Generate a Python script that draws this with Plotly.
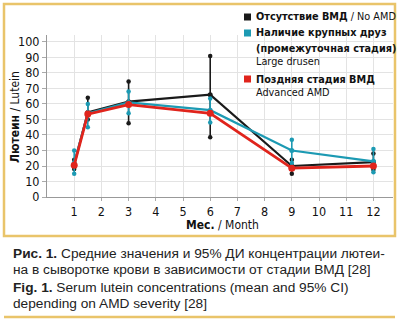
import plotly.graph_objects as go

months = [1, 1.5, 3, 6, 9, 12]
x_ticks = [1, 2, 3, 4, 5, 6, 7, 8, 9, 10, 11, 12]
y_ticks = [0, 10, 20, 30, 40, 50, 60, 70, 80, 90, 100]

no_amd_mean = [21, 54.5, 61.5, 66, 20, 22.5]
no_amd_lo = [18, 50, 47.5, 38.5, 15, 17.5]
no_amd_hi = [24, 64, 74.5, 91, 24, 28]

drusen_mean = [22, 54, 61, 56, 30, 23]
drusen_lo = [15, 45, 54, 48, 22, 16]
drusen_hi = [30, 60, 68, 63.5, 37, 31]

adv_mean = [20.5, 53.5, 59.6, 54, 18.6, 20]

BLACK = "#1a1a1a"
TEAL = "#1c9ab3"
RED = "#e0241c"
FONT_N = "DejaVu Sans Condensed, Roboto Condensed, Liberation Sans Narrow"
FONT = "Liberation Sans, Arial"

fig = go.Figure()

def add_series(mean, lo, hi, color, lw, ms):
    if lo is not None:
        fig.add_trace(go.Scatter(
            x=months, y=mean, mode="markers",
            marker=dict(size=0.1, color=color),
            error_y=dict(type="data", symmetric=False,
                         array=[h - m for h, m in zip(hi, mean)],
                         arrayminus=[m - l for m, l in zip(mean, lo)],
                         color=color, thickness=1.6, width=0),
            showlegend=False, hoverinfo="skip"))
        fig.add_trace(go.Scatter(
            x=months + months, y=lo + hi, mode="markers",
            marker=dict(size=4.5, color=color), showlegend=False,
            hoverinfo="skip"))
    fig.add_trace(go.Scatter(
        x=months, y=mean, mode="lines+markers",
        line=dict(color=color, width=lw),
        marker=dict(size=ms, color=color), showlegend=False))

add_series(no_amd_mean, no_amd_lo, no_amd_hi, BLACK, 2.2, 5)
add_series(drusen_mean, drusen_lo, drusen_hi, TEAL, 2.2, 5)
add_series(adv_mean, None, None, RED, 2.8, 7)

fig.update_layout(
    width=401, height=322,
    margin=dict(l=47, r=8, t=35, b=125),
    paper_bgcolor="white", plot_bgcolor="white",
    font=dict(family=FONT_N, size=12, color="#111"),
    xaxis=dict(range=[0, 12.72], tickvals=x_ticks, showgrid=True,
               gridcolor="#e3e3e3", gridwidth=1, zeroline=False,
               showline=True, linecolor="#999", linewidth=1,
               ticks="outside", ticklen=3, tickcolor="#aaa",
               tickfont=dict(family=FONT_N, size=12.5)),
    yaxis=dict(range=[0, 104.5], tickvals=y_ticks, showgrid=True,
               gridcolor="#e3e3e3", gridwidth=1, zeroline=False,
               showline=True, linecolor="#999", linewidth=1,
               ticks="outside", ticklen=4, tickcolor="#aaa",
               tickfont=dict(family=FONT_N, size=12.5)),
)

def px_x(px):
    return (px - 47) / 346

def px_y(py):
    return (197 - py) / 162

# orange frame around chart and bottom rule
fig.add_shape(type="rect", xref="paper", yref="paper",
              x0=px_x(4), x1=px_x(395), y0=px_y(236), y1=px_y(4),
              line=dict(color="#e9c46a", width=2.5),
              fillcolor="rgba(0,0,0,0)", layer="below")
fig.add_shape(type="line", xref="paper", yref="paper",
              x0=px_x(4), x1=px_x(395), y0=px_y(317), y1=px_y(317),
              line=dict(color="#e9c46a", width=2.5))

# legend
legend_rows = [
    (17, "<b>Отсутствие ВМД</b> / No AMD", BLACK),
    (33, "<b>Наличие крупных друз</b>", TEAL),
    (48, "<b>(промежуточная стадия)</b>", None),
    (62, "Large drusen", None),
    (79, "<b>Поздняя стадия ВМД</b>", RED),
    (92, "Advanced AMD", None),
]
for py, txt, col in legend_rows:
    fig.add_annotation(xref="paper", yref="paper", x=px_x(254), y=px_y(py),
                       text=txt, showarrow=False, xanchor="left", yanchor="middle",
                       font=dict(family=FONT_N, size=10.8, color="#111"))
    if col:
        fig.add_shape(type="rect", xref="paper", yref="paper",
                      x0=px_x(244), x1=px_x(251), y0=px_y(py + 3.5), y1=px_y(py - 3.5),
                      fillcolor=col, line=dict(width=0))

# axis titles
fig.add_annotation(xref="paper", yref="paper", x=px_x(15), y=px_y(117),
                   text="<b>Лютеин</b> / Lutein", textangle=-90, showarrow=False,
                   xanchor="center", yanchor="middle",
                   font=dict(family=FONT_N, size=12, color="#111"))
fig.add_annotation(xref="paper", yref="paper", x=px_x(184), y=px_y(225),
                   text="<b>Мес.</b> / Month", showarrow=False,
                   xanchor="left", yanchor="middle",
                   font=dict(family=FONT_N, size=12, color="#111"))

# caption
caption = [
    (253, "<b>Рис. 1.</b> Средние значения и 95% ДИ концентрации лютеи-"),
    (269, "на в сыворотке крови в зависимости от стадии ВМД [28]"),
    (287, "<b>Fig. 1.</b> Serum lutein concentrations (mean and 95% CI)"),
    (303, "depending on AMD severity [28]"),
]
for py, txt in caption:
    fig.add_annotation(xref="paper", yref="paper", x=px_x(11), y=px_y(py),
                       text=txt, showarrow=False, xanchor="left", yanchor="middle",
                       font=dict(family=FONT, size=13.7, color="#222"))

fig.write_html("out.html")
